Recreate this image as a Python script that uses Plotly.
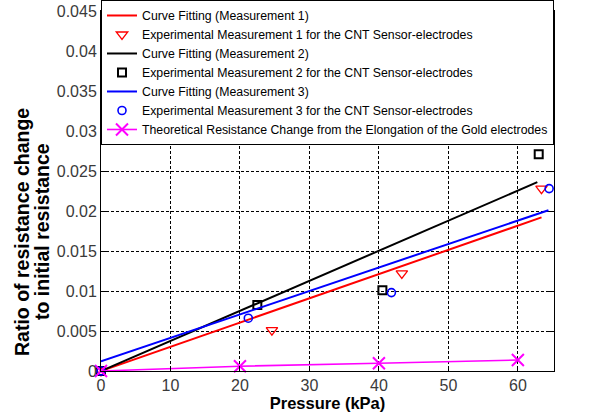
import plotly.graph_objects as go

# ---- data ----
fit1_x = [0, 63.4]
fit1_y = [0.0, 0.0192]
exp1_x = [0, 24.6, 43.3, 63.4]
exp1_y = [0.0, 0.0051, 0.0122, 0.0228]

fit2_x = [0, 62.8]
fit2_y = [0.0, 0.0236]
exp2_x = [0, 22.5, 40.5, 63.0]
exp2_y = [0.0, 0.00825, 0.0101, 0.0271]

fit3_x = [0, 64.4]
fit3_y = [0.0012, 0.0201]
exp3_x = [0, 21.2, 41.8, 64.5]
exp3_y = [0.0, 0.0066, 0.0098, 0.0228]

theo_x = [0, 20, 40, 60]
theo_y = [0.0, 0.0006, 0.00096, 0.00137]

x_ticks = [0, 10, 20, 30, 40, 50, 60]
y_ticks = [0, 0.005, 0.01, 0.015, 0.02, 0.025, 0.03, 0.035, 0.04, 0.045]
y_ticktext = ["0", "0.005", "0.01", "0.015", "0.02", "0.025", "0.03", "0.035", "0.04", "0.045"]

names = [
    "Curve Fitting (Measurement 1)",
    "Experimental Measurement 1 for the CNT Sensor-electrodes",
    "Curve Fitting (Measurement 2)",
    "Experimental Measurement 2 for the CNT Sensor-electrodes",
    "Curve Fitting (Measurement 3)",
    "Experimental Measurement 3 for the CNT Sensor-electrodes",
    "Theoretical Resistance Change from the Elongation of the Gold electrodes",
]
y_title_lines = ["Ratio of resistance change", "to initial resistance"]
x_title = "Pressure (kPa)"

FONT = "Liberation Sans, Arial, sans-serif"

fig = go.Figure()
fig.add_trace(go.Scatter(x=fit1_x, y=fit1_y, mode="lines", name=names[0],
                         line=dict(color="#ff0000", width=2)))
fig.add_trace(go.Scatter(x=exp1_x, y=exp1_y, mode="markers", name=names[1], cliponaxis=False,
                         marker=dict(symbol="triangle-down-open", size=10, color="#ff0000",
                                     line=dict(width=1.3, color="#ff0000"))))
fig.add_trace(go.Scatter(x=fit2_x, y=fit2_y, mode="lines", name=names[2],
                         line=dict(color="#000000", width=2)))
fig.add_trace(go.Scatter(x=exp2_x, y=exp2_y, mode="markers", name=names[3], cliponaxis=False,
                         marker=dict(symbol="square-open", size=8, color="#000000",
                                     line=dict(width=2, color="#000000"))))
fig.add_trace(go.Scatter(x=fit3_x, y=fit3_y, mode="lines", name=names[4],
                         line=dict(color="#0000ff", width=2)))
fig.add_trace(go.Scatter(x=exp3_x, y=exp3_y, mode="markers", name=names[5], cliponaxis=False,
                         marker=dict(symbol="circle-open", size=8, color="#0000ff",
                                     line=dict(width=1.6, color="#0000ff"))))
fig.add_trace(go.Scatter(x=theo_x, y=theo_y, mode="lines+markers", name=names[6], cliponaxis=False,
                         line=dict(color="#ff00ff", width=1.6),
                         marker=dict(symbol="x-thin-open", size=12, color="#ff00ff",
                                     line=dict(width=2, color="#ff00ff"))))

axis_common = dict(
    showline=True, linecolor="black", linewidth=1, mirror="ticks",
    ticks="inside", ticklen=5, tickcolor="black",
    showgrid=True, gridcolor="black", gridwidth=1, griddash="3px,2px",
    zeroline=False,
    tickfont=dict(family=FONT, size=16, color="#3a3a3a"),
)

fig.update_xaxes(range=[0, 65.2], tickvals=x_ticks,
                 title=dict(text="<b>" + x_title + "</b>",
                            font=dict(family=FONT, size=16.5, color="black"), standoff=3),
                 **axis_common)
fig.update_yaxes(range=[0, 0.045], tickvals=y_ticks, ticktext=y_ticktext,
                 **axis_common)

# two-line y-axis title, one annotation per line so the line spacing can be set
for line, xpos in zip(y_title_lines, [22, 42]):
    fig.add_annotation(text="<b>" + line + "</b>", xref="paper", yref="paper",
                       x=(xpos - 101) / 453.0, y=(371 - 232) / 360.0,
                       xanchor="center", yanchor="middle", textangle=-90,
                       showarrow=False, font=dict(family=FONT, size=19.5, color="black"))

fig.update_layout(
    width=608, height=414,
    margin=dict(l=101, r=54, t=11, b=43, autoexpand=False),
    paper_bgcolor="white", plot_bgcolor="white",
    font=dict(family=FONT),
    legend=dict(x=0.0, y=1.0306, xanchor="left", yanchor="top",
                bgcolor="white", bordercolor="black", borderwidth=1,
                font=dict(family=FONT, size=12.3, color="black"),
                tracegroupgap=0),
    showlegend=True,
)

fig.write_html("out.html", config={"displayModeBar": False},
               post_script="document.body.style.margin='0';")
